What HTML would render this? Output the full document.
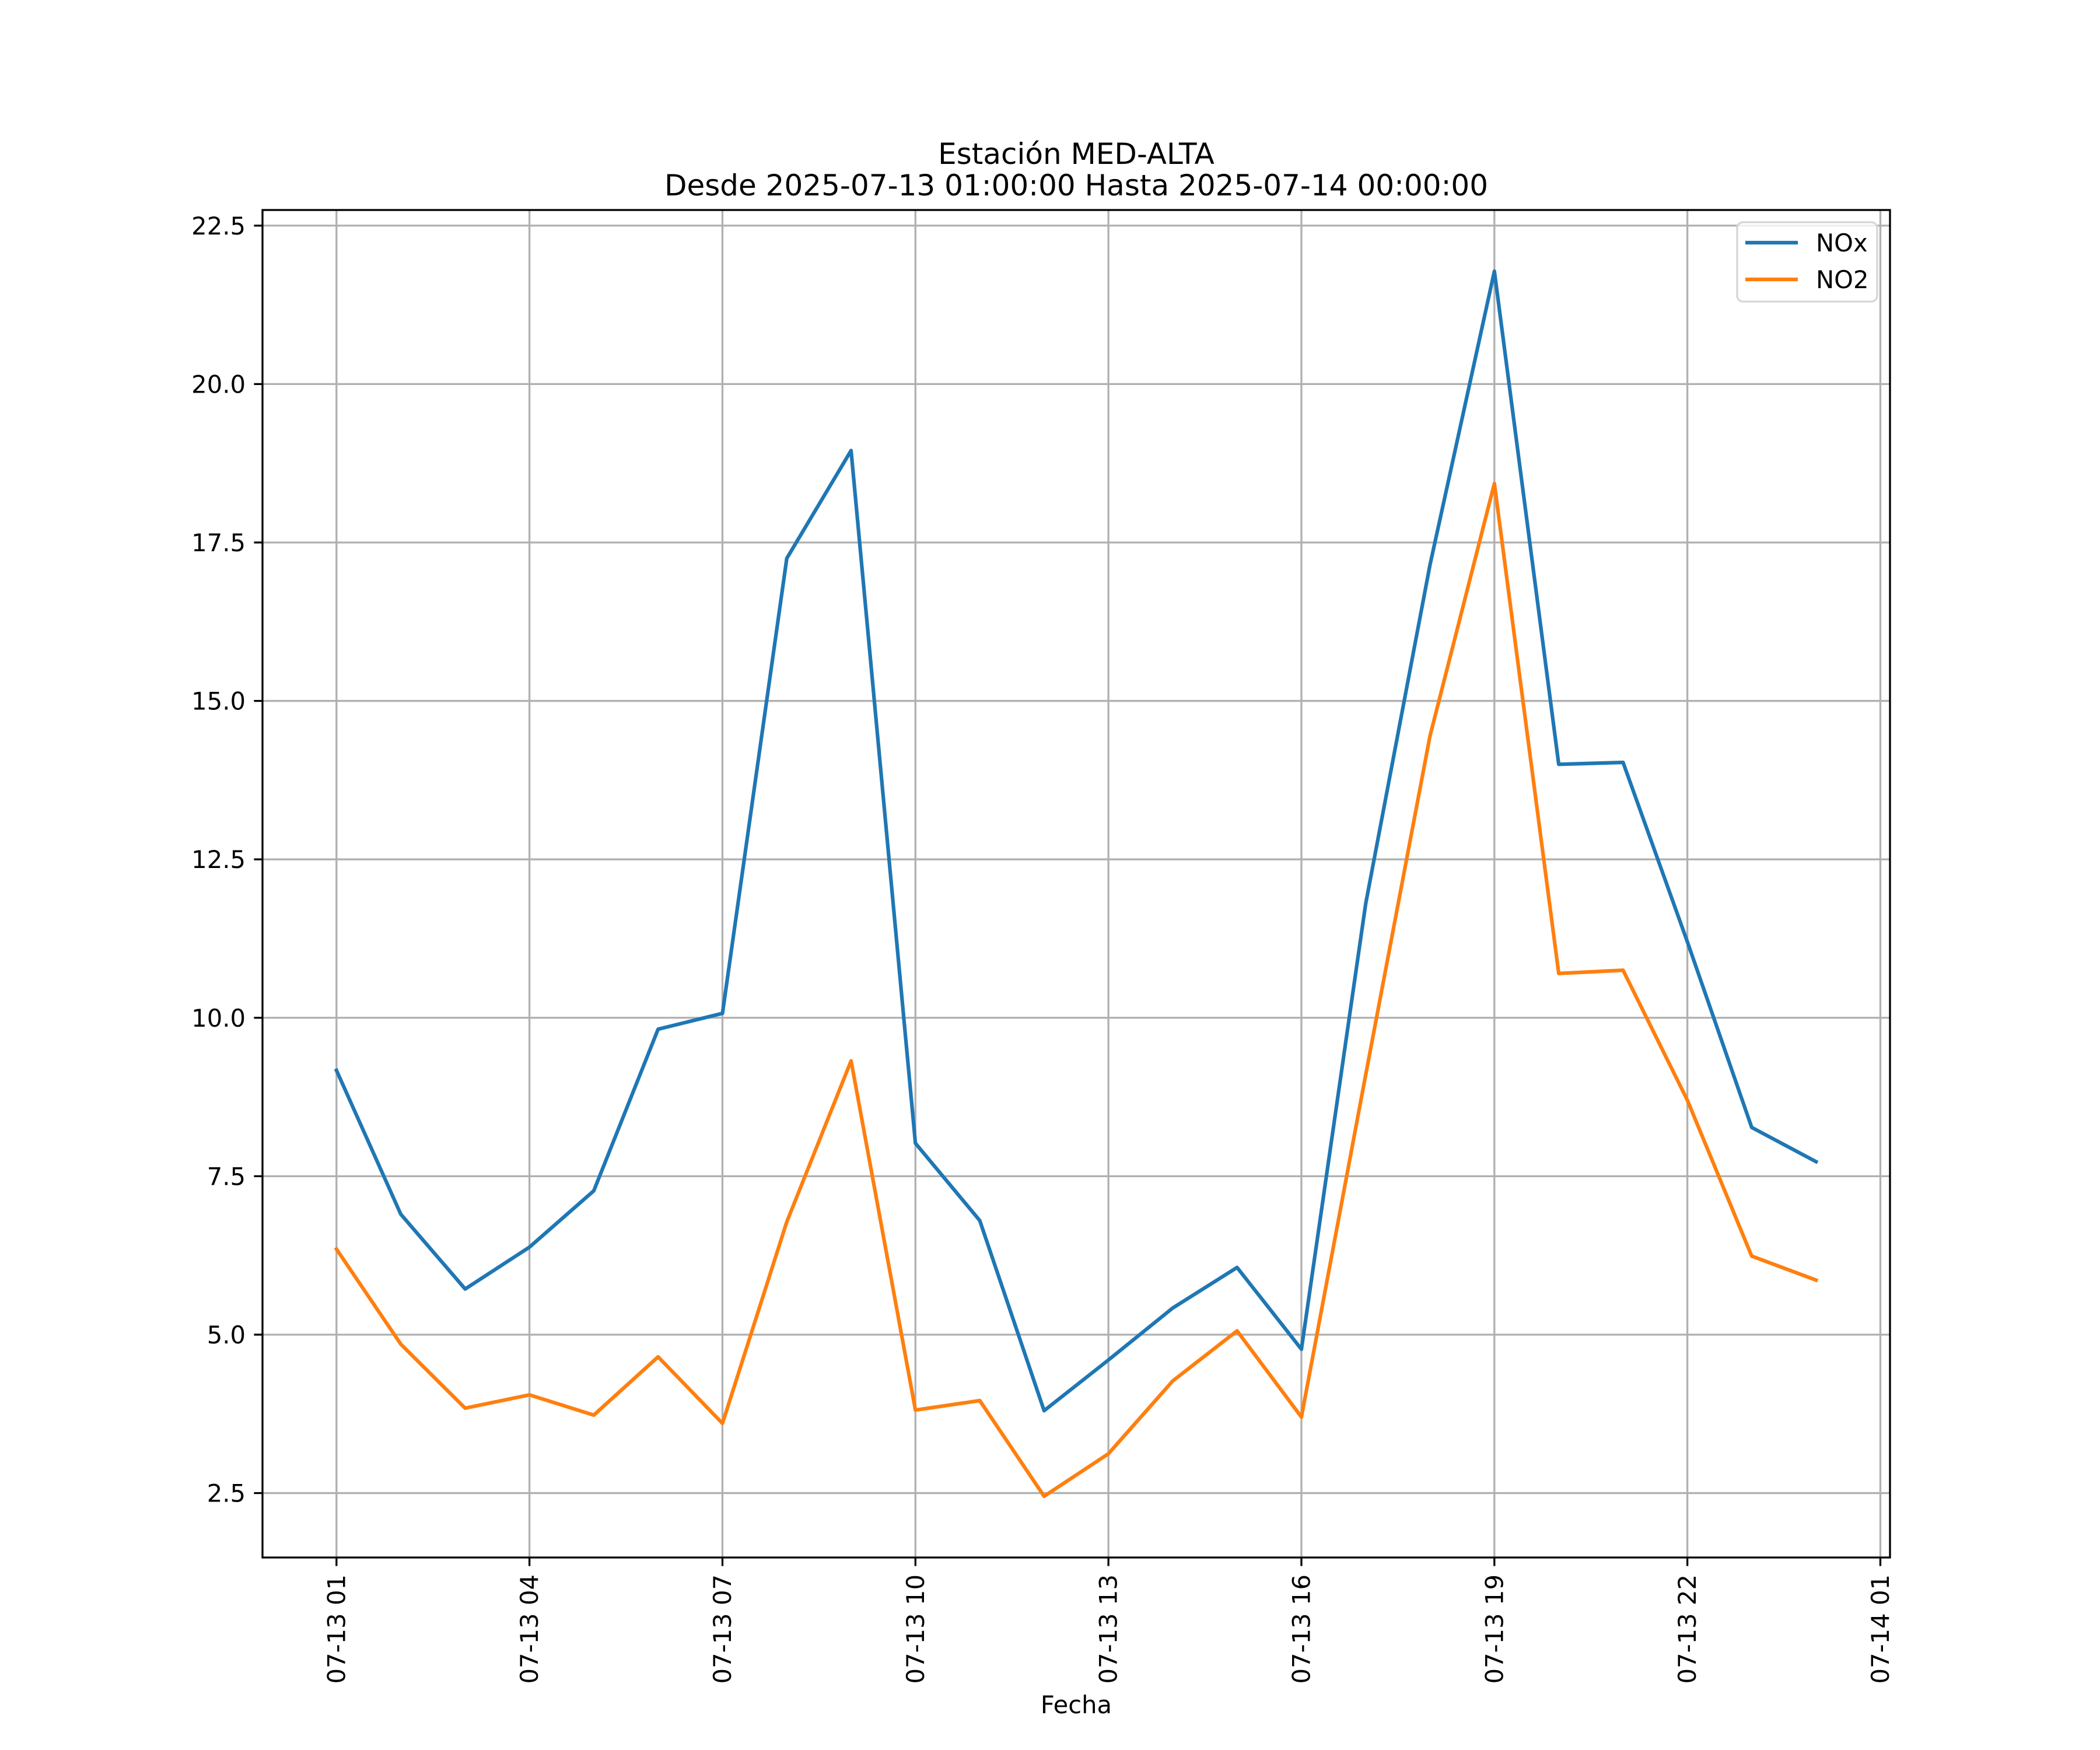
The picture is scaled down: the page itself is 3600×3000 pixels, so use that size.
<!DOCTYPE html>
<html><head><meta charset="utf-8"><style>html,body{margin:0;padding:0;background:#fff}svg{display:block}text{font-family:"DejaVu Sans","Liberation Sans",sans-serif;fill:#000}</style></head>
<body>
<svg id="chart" width="3600" height="3000" viewBox="0 0 3600 3000" xmlns="http://www.w3.org/2000/svg">
<rect width="3600" height="3000" fill="#fff"/>
<text x="1845" y="281" font-size="50" text-anchor="middle">Estación MED-ALTA</text>
<text x="1845" y="335" font-size="50" text-anchor="middle">Desde 2025-07-13 01:00:00 Hasta 2025-07-14 00:00:00</text>
<g id="grid"></g>
<g id="series"></g>
<rect x="450" y="360" width="2790" height="2310" fill="none" stroke="#000" stroke-width="3.3"/>
<g id="ticks"></g>
<text x="1845" y="2937" font-size="41.7" text-anchor="middle">Fecha</text>
<g>
<rect x="2978" y="381" width="240" height="136" rx="10" fill="#fff" fill-opacity="0.8" stroke="#d6d6d6" stroke-width="3.3"/>
<line x1="2992" y1="416" x2="3082" y2="416" stroke="#1f77b4" stroke-width="6.25"/>
<text x="3113" y="431" font-size="41.7">NOx</text>
<line x1="2992" y1="479" x2="3082" y2="479" stroke="#ff7f0e" stroke-width="6.25"/>
<text x="3113" y="494" font-size="41.7">NO2</text>
</g>
</svg>
<script>
const hours = [1,2,3,4,5,6,7,8,9,10,11,12,13,14,15,16,17,18,19,20,21,22,23,24];
const noxValues = [9.17,6.9,5.72,6.38,7.27,9.82,10.07,17.25,18.95,8.02,6.8,3.8,4.6,5.42,6.06,4.77,11.8,17.15,21.78,14.0,14.03,11.2,8.27,7.73];
const no2Values = [6.35,4.85,3.84,4.05,3.73,4.65,3.6,6.78,9.32,3.81,3.96,2.45,3.12,4.27,5.06,3.7,9.1,14.45,18.43,10.7,10.75,8.7,6.24,5.86];
const xTickHours = [1,4,7,10,13,16,19,22,25];
const xTickLabels = ["07-13 01","07-13 04","07-13 07","07-13 10","07-13 13","07-13 16","07-13 19","07-13 22","07-14 01"];
const yTickValues = [2.5,5,7.5,10,12.5,15,17.5,20,22.5];
const yTickLabels = ["2.5","5.0","7.5","10.0","12.5","15.0","17.5","20.0","22.5"];

const NS="http://www.w3.org/2000/svg";
const L=450,R=3240,T=360,B=2670;
const all=noxValues.concat(no2Values);
const xmin0=Math.min(...hours),xmax0=Math.max(...hours);
const xpad=(xmax0-xmin0)*0.05;
const xmin=xmin0-xpad,xmax=xmax0+xpad;
const ymin0=Math.min(...all),ymax0=Math.max(...all);
const ypad=(ymax0-ymin0)*0.05;
const ymin=ymin0-ypad,ymax=ymax0+ypad;
function xs(h){return L+(h-xmin)/(xmax-xmin)*(R-L);}
function ys(v){return B-(v-ymin)/(ymax-ymin)*(B-T);}
function mk(tag,attrs,parent){const e=document.createElementNS(NS,tag);for(const k in attrs)e.setAttribute(k,attrs[k]);parent.appendChild(e);return e;}
const grid=document.getElementById('grid'),ticks=document.getElementById('ticks'),series=document.getElementById('series');
xTickHours.forEach((h,i)=>{
  const x=xs(h);
  const g=mk('line',{x1:x,y1:T,x2:x,y2:B,stroke:'#b0b0b0','stroke-width':3.3},grid);
  
  
  const t=mk('line',{x1:x,y1:B,x2:x,y2:B+14.6,stroke:'#000','stroke-width':3.3},ticks);
  
  
  const lb=mk('text',{x:0,y:0,'font-size':41.7,'text-anchor':'end','dominant-baseline':'central',transform:`translate(${x},${B+29})rotate(-90)`},ticks);
  lb.textContent=xTickLabels[i];
  
  
});
yTickValues.forEach((v,i)=>{
  const y=ys(v);
  const g=mk('line',{x1:L,y1:y,x2:R,y2:y,stroke:'#b0b0b0','stroke-width':3.3},grid);
  
  
  const t=mk('line',{x1:L-14.6,y1:y,x2:L,y2:y,stroke:'#000','stroke-width':3.3},ticks);
  
  
  const lb=mk('text',{x:L-29,y:y+15,'font-size':41.7,'text-anchor':'end'},ticks);
  lb.textContent=yTickLabels[i];
  
  
});
function line(vals,color,name){
  const pts=hours.map((h,i)=>xs(h).toFixed(1)+','+ys(vals[i]).toFixed(1)).join(' ');
  const p=mk('polyline',{points:pts,fill:'none',stroke:color,'stroke-width':6.25,'stroke-linejoin':'round','stroke-linecap':'square'},series);
  
  
}
line(noxValues,'#1f77b4','nox-line');
line(no2Values,'#ff7f0e','no2-line');
</script>
</body></html>
